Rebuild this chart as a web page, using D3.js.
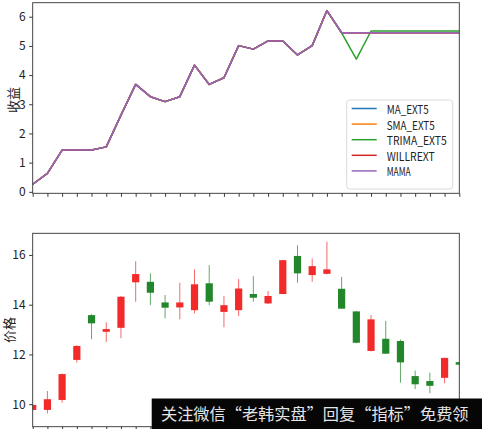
<!DOCTYPE html>
<html>
<head>
<meta charset="utf-8">
<script src="https://cdn.jsdelivr.net/npm/d3@7"></script>
<style>
  html, body { margin: 0; padding: 0; background: #fff; }
  svg { display: block; }
  text { font-family: "Noto Sans CJK SC", "DejaVu Sans", sans-serif; }
</style>
</head>
<body>
<svg id="chart" width="482" height="429"></svg>
<script>
// Trading day positions shared by both panels
const days = [0,1,2,3,4,5,6,7,8,9,10,11,12,13,14,15,16,17,18,19,20,21,22,23,24,25,26,27,28,29];

// Cumulative return of each strategy (top panel)
const maExt5   = [0.26,0.63,1.43,1.43,1.43,1.54,2.63,3.68,3.26,3.09,3.26,4.34,3.68,3.91,5.01,4.89,5.17,5.17,4.69,5.01,6.21,5.45,5.45,5.45,5.45,5.45,5.45,5.45,5.45,5.45];
const smaExt5  = [0.26,0.63,1.43,1.43,1.43,1.54,2.63,3.68,3.26,3.09,3.26,4.34,3.68,3.91,5.01,4.89,5.17,5.17,4.69,5.01,6.21,5.45,5.45,5.45,5.45,5.45,5.45,5.45,5.45,5.45];
const trimaExt5= [0.26,0.63,1.43,1.43,1.43,1.54,2.63,3.68,3.26,3.09,3.26,4.34,3.68,3.91,5.01,4.89,5.17,5.17,4.69,5.01,6.21,5.45,4.55,5.51,5.51,5.51,5.51,5.51,5.51,5.51];
const willrExt = [0.26,0.63,1.43,1.43,1.43,1.54,2.63,3.68,3.26,3.09,3.26,4.34,3.68,3.91,5.01,4.89,5.17,5.17,4.69,5.01,6.21,5.45,5.45,5.45,5.45,5.45,5.45,5.45,5.45,5.45];
const mama     = [0.26,0.63,1.43,1.43,1.43,1.54,2.63,3.68,3.26,3.09,3.26,4.34,3.68,3.91,5.01,4.89,5.17,5.17,4.69,5.01,6.21,5.45,5.45,5.45,5.45,5.45,5.45,5.45,5.45,5.45];

const seriesNames  = ["MA_EXT5","SMA_EXT5","TRIMA_EXT5","WILLREXT","MAMA"];
const seriesColors = ["#1f77b4","#ff7f0e","#2ca02c","#d62728","#9467bd"];
const seriesData   = [maExt5, smaExt5, trimaExt5, willrExt, mama];

const returnTicks = [0,1,2,3,4,5,6];

// Daily prices (bottom panel)
const openP  = [9.77,9.77,10.17,11.78,13.58,12.91,13.07,14.90,14.92,14.09,13.89,13.78,14.86,13.71,13.78,14.43,14.05,14.43,15.96,15.19,15.24,14.64,13.73,12.14,12.63,12.54,11.13,10.93,11.06,11.69];
const closeP = [9.97,10.20,11.21,12.34,13.25,13.02,14.32,15.23,14.48,13.88,14.09,14.82,14.12,13.98,14.65,14.28,14.35,15.79,15.26,15.55,15.42,13.84,12.47,13.41,12.03,11.68,10.80,10.74,11.86,11.59];
const highP  = [10.00,10.53,11.23,12.37,13.62,13.29,14.35,15.75,15.26,14.39,14.88,15.42,15.59,14.35,15.03,15.15,14.55,15.80,16.39,15.86,16.53,15.12,13.75,13.58,13.35,12.60,11.35,11.27,11.87,11.70];
const lowP   = [9.75,9.63,10.06,11.67,12.61,12.50,12.65,14.12,13.98,13.45,13.41,13.65,13.98,13.09,13.54,14.12,14.03,14.42,14.88,14.92,15.22,13.84,12.45,12.12,12.02,10.86,10.61,10.44,10.84,11.58];

const priceTicks = [10,12,14,16];

const svg = d3.select("#chart");
const left = 32.7, right = 459.3;
const top1 = 2.7, bottom1 = 193.3;
const top2 = 233.3, bottom2 = 426.7;

const x = d3.scaleLinear().domain([0, 29]).range([left, right]);
const y1 = d3.scaleLinear().domain([-0.05, 6.48]).range([bottom1, top1]);
const y2 = d3.scaleLinear().domain([9.095, 16.87]).range([bottom2, top2]);

const defs = svg.append("defs");
defs.append("clipPath").attr("id", "clip1").append("rect")
  .attr("x", left).attr("y", top1).attr("width", right - left).attr("height", bottom1 - top1);
defs.append("clipPath").attr("id", "clip2").append("rect")
  .attr("x", left).attr("y", top2).attr("width", right - left).attr("height", bottom2 - top2);

function styleAxis(g) {
  g.select(".domain").remove();
  g.selectAll(".tick line").attr("stroke", "#222").attr("stroke-width", 0.9);
  g.selectAll(".tick text").attr("fill", "#222").attr("font-size", 12);
}

// ---------- top panel: strategy returns ----------
const p1 = svg.append("g");
p1.append("g").attr("transform", `translate(${left},0)`)
  .call(d3.axisLeft(y1).tickValues(returnTicks).tickSize(3.5).tickPadding(3.5).tickFormat(d3.format("d")))
  .call(styleAxis);
p1.append("g").attr("transform", `translate(0,${bottom1})`)
  .call(d3.axisBottom(x).tickValues(days).tickSize(3.5).tickFormat(""))
  .call(styleAxis);

const line = d3.line().x((d, i) => x(days[i])).y(d => y1(d));
const lines = p1.append("g").attr("clip-path", "url(#clip1)");
seriesData.forEach((s, k) => {
  lines.append("path").datum(s)
    .attr("d", line)
    .attr("fill", "none")
    .attr("stroke", seriesColors[k])
    .attr("stroke-width", 1.5)
    .attr("stroke-linejoin", "round");
});

p1.append("rect").attr("x", left).attr("y", top1)
  .attr("width", right - left).attr("height", bottom1 - top1)
  .attr("fill", "none").attr("stroke", "#333").attr("stroke-width", 0.9);

p1.append("text")
  .attr("transform", `translate(12,100) rotate(-90)`)
  .attr("text-anchor", "middle").attr("dominant-baseline", "central")
  .attr("font-size", 13).attr("fill", "#222")
  .text("收益");

// legend
const lg = p1.append("g");
lg.append("rect").attr("x", 346.7).attr("y", 100).attr("width", 106).attr("height", 89)
  .attr("rx", 3).attr("fill", "#fff").attr("fill-opacity", 0.85)
  .attr("stroke", "#d6d6d6").attr("stroke-width", 0.9);
seriesNames.forEach((name, k) => {
  const ry = 108.5 + k * 15.6;
  lg.append("line").attr("x1", 351.7).attr("x2", 376.7).attr("y1", ry).attr("y2", ry)
    .attr("stroke", seriesColors[k]).attr("stroke-width", 1.5);
  lg.append("text").attr("x", 386.7).attr("y", ry).attr("dominant-baseline", "central")
    .attr("font-size", 12).attr("fill", "#222")
    .attr("textLength", name.length * 6).attr("lengthAdjust", "spacingAndGlyphs")
    .text(name);
});

// ---------- bottom panel: candlesticks ----------
const p2 = svg.append("g");
p2.append("g").attr("transform", `translate(${left},0)`)
  .call(d3.axisLeft(y2).tickValues(priceTicks).tickSize(3.5).tickPadding(3.5).tickFormat(d3.format("d")))
  .call(styleAxis);
p2.append("g").attr("transform", `translate(0,${bottom2})`)
  .call(d3.axisBottom(x).tickValues(days).tickSize(3.5).tickFormat(""))
  .call(styleAxis);

const upColor = "#f22a2a", downColor = "#22862a";
const candles = p2.append("g").attr("clip-path", "url(#clip2)")
  .selectAll("g").data(days).join("g");
const bodyW = 7.2;
candles.append("line")
  .attr("x1", i => x(i)).attr("x2", i => x(i))
  .attr("y1", i => y2(highP[i])).attr("y2", i => y2(lowP[i]))
  .attr("stroke", i => closeP[i] >= openP[i] ? upColor : downColor)
  .attr("stroke-opacity", 0.7)
  .attr("stroke-width", 1);
candles.append("rect")
  .attr("x", i => x(i) - bodyW / 2)
  .attr("width", bodyW)
  .attr("y", i => y2(Math.max(openP[i], closeP[i])))
  .attr("height", i => Math.max(1, Math.abs(y2(openP[i]) - y2(closeP[i]))))
  .attr("fill", i => closeP[i] >= openP[i] ? upColor : downColor);

p2.append("rect").attr("x", left).attr("y", top2)
  .attr("width", right - left).attr("height", bottom2 - top2)
  .attr("fill", "none").attr("stroke", "#333").attr("stroke-width", 0.9);

p2.append("text")
  .attr("transform", `translate(8.5,330) rotate(-90)`)
  .attr("text-anchor", "middle").attr("dominant-baseline", "central")
  .attr("font-size", 13).attr("fill", "#222")
  .text("价格");

// ---------- caption banner ----------
const banner = svg.append("g");
banner.append("rect").attr("x", 151.7).attr("y", 398.5).attr("width", 482 - 151.7).attr("height", 31)
  .attr("fill", "#060606");
banner.append("text").attr("x", 161).attr("y", 420)
  .attr("font-size", 16.2).attr("fill", "#e4e4e4")
  .text("关注微信“老韩实盘”回复“指标”免费领");
</script>
</body>
</html>
